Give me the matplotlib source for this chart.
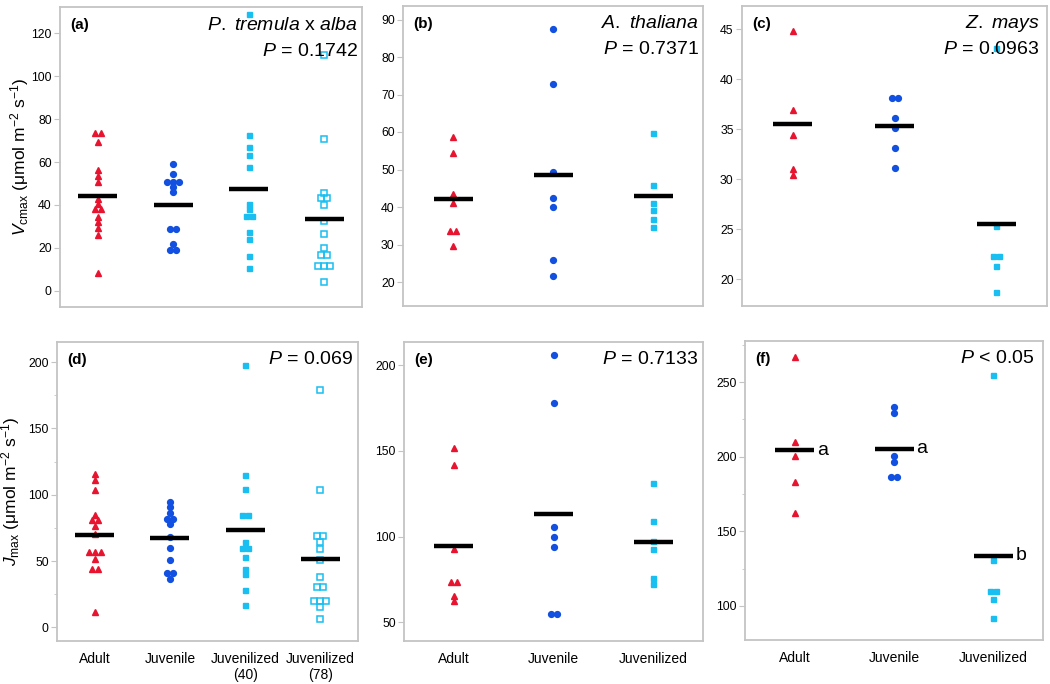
import numpy as np
import matplotlib
matplotlib.use("Agg")
import matplotlib.pyplot as plt
from matplotlib.ticker import MultipleLocator

plt.rcParams["font.family"] = ["Liberation Sans", "DejaVu Sans"]
plt.rcParams["mathtext.fontset"] = "custom"
plt.rcParams["mathtext.rm"] = "Liberation Sans"
plt.rcParams["mathtext.it"] = "Liberation Sans:italic"

# ---- data ----
cats4 = ["Adult", "Juvenile", "Juvenilized\n(40)", "Juvenilized\n(78)"]
cats3 = ["Adult", "Juvenile", "Juvenilized"]

a_adult = [73.4, 73.4, 69.5, 56.3, 53.6, 50.8, 42.8, 40.4, 37.9, 37.9, 34.5, 31.9, 29.1, 26.0, 8.4]
a_juv = [58.9, 54.4, 50.8, 50.8, 50.8, 48.3, 45.9, 28.8, 28.8, 21.8, 19.0, 19.0]
a_j40 = [129.0, 72.6, 67.2, 63.3, 57.5, 40.4, 37.9, 34.8, 34.8, 27.2, 24.1, 16.3, 10.7]
a_j78 = [110.0, 70.7, 45.7, 43.1, 43.1, 40.0, 32.5, 26.4, 19.7, 16.6, 16.6, 11.7, 11.7, 11.7, 4.2]

b_adult = [58.8, 54.5, 43.4, 41.1, 33.5, 33.5, 29.6]
b_juv = [87.5, 72.7, 49.4, 42.4, 40.1, 25.9, 21.6]
b_juvd = [59.7, 45.8, 41.1, 39.2, 36.9, 34.6]

c_adult = [44.8, 36.9, 34.4, 31.0, 30.4]
c_juv = [38.1, 38.1, 36.1, 35.1, 33.1, 31.1]
c_juvd = [43.1, 25.3, 22.3, 22.3, 21.3, 18.7]

d_adult = [115.3, 110.8, 103.8, 84.9, 80.7, 80.7, 76.1, 70.1, 56.8, 56.8, 56.8, 51.8, 43.7, 43.7, 11.6]
d_juv = [94.5, 90.4, 86.2, 81.9, 81.9, 78.1, 68.1, 59.8, 51.0, 40.9, 40.9, 36.7]
d_j40 = [197.5, 114.6, 104.0, 84.9, 84.9, 64.3, 60.1, 60.1, 53.0, 44.2, 40.0, 28.4, 16.6]
d_j78 = [179.0, 103.3, 68.8, 68.8, 64.3, 59.3, 50.5, 37.9, 30.4, 30.4, 19.6, 19.6, 19.6, 15.3, 6.5]

e_adult = [151.9, 141.8, 93.0, 73.7, 73.7, 65.4, 62.2]
e_juv = [206.0, 178.2, 105.9, 99.7, 94.2, 54.9, 54.9]
e_juvd = [131.6, 109.4, 97.3, 93.0, 75.9, 72.4]

f_adult = [266.5, 210.0, 200.4, 182.8, 162.5]
f_juv = [233.5, 229.5, 200.4, 196.2, 186.4, 186.4]
f_juvd = [254.5, 130.8, 110.0, 110.0, 104.9, 91.7]

RED = "#e8142f"
BLUE = "#1150e0"
CYAN = "#18bff0"
GRID = "#c4c4c4"

styles = [
    dict(marker="^", color=RED, ms=4.6, mec=RED),
    dict(marker="o", color=BLUE, ms=4.2, mec=BLUE),
    dict(marker="s", color=CYAN, ms=3.6, mec=CYAN),
    dict(marker="s", color="none", ms=4.0, mec=CYAN, mew=1.1),
]

W, H = 1050, 684
fig = plt.figure(figsize=(W / 100, H / 100), dpi=100)


def make_ax(l, r, t, b):
    return fig.add_axes([l / W, 1 - b / H, (r - l) / W, (b - t) / H])


def panel(ax, groups, cats, ylim, major, minor, show_x, width_px):
    n = len(groups)
    px_unit = width_px / n
    dx = 6.0 / px_unit
    half = 19.5 / px_unit
    for i, vals in enumerate(groups):
        vals = np.array(vals)
        xs = np.full(len(vals), i + 1.0)
        # spread equal values side by side
        for v in np.unique(vals):
            idx = np.where(vals == v)[0]
            k = len(idx)
            xs[idx] += (np.arange(k) - (k - 1) / 2) * dx
        ax.plot(xs, vals, linestyle="none", zorder=3, clip_on=False, **styles[i])
        m = np.mean(vals)
        ax.plot([i + 1 - half, i + 1 + half], [m, m], color="black", lw=3.2,
                solid_capstyle="butt", zorder=4)
    ax.set_xlim(0.5, n + 0.5)
    ax.set_ylim(*ylim)
    ax.yaxis.set_major_locator(MultipleLocator(major))
    if minor:
        ax.yaxis.set_minor_locator(MultipleLocator(minor))
    ax.tick_params(axis="y", which="major", length=4, color=GRID, labelsize=8.8, pad=2)
    ax.tick_params(axis="y", which="minor", length=2.5, color=GRID)
    ax.set_xticks(range(1, n + 1))
    if show_x:
        ax.set_xticklabels(cats, fontsize=10)
        ax.tick_params(axis="x", length=0, pad=8)
    else:
        ax.set_xticklabels([])
        ax.tick_params(axis="x", length=0)
    for s in ax.spines.values():
        s.set_color(GRID)
        s.set_linewidth(1.3)
    return half


ax_a = make_ax(60, 362, 7, 307)
ax_b = make_ax(403, 703, 6, 306)
ax_c = make_ax(742, 1047, 6, 306)
ax_d = make_ax(57, 358, 342, 641)
ax_e = make_ax(404, 703, 342, 641)
ax_f = make_ax(745, 1043, 341, 640)

panel(ax_a, [a_adult, a_juv, a_j40, a_j78], cats4, (-7.6, 132.3), 20, None, False, 302)
panel(ax_b, [b_adult, b_juv, b_juvd], cats3, (13.6, 93.6), 10, None, False, 300)
panel(ax_c, [c_adult, c_juv, c_juvd], cats3, (17.3, 47.3), 5, None, False, 305)
panel(ax_d, [d_adult, d_juv, d_j40, d_j78], cats4, (-10.3, 215.1), 50, 25, True, 301)
panel(ax_e, [e_adult, e_juv, e_juvd], cats3, (39.1, 213.6), 50, None, True, 299)
half_f = panel(ax_f, [f_adult, f_juv, f_juvd], cats3, (77.2, 277.5), 50, 25, True, 298)

# panel letters
for ax, lab in [(ax_a, "(a)"), (ax_b, "(b)"), (ax_c, "(c)"),
                (ax_d, "(d)"), (ax_e, "(e)"), (ax_f, "(f)")]:
    ax.text(0.035, 0.94, lab, transform=ax.transAxes, fontsize=11,
            fontweight="bold", ha="left", va="center")

# species names and P values
sp = dict(fontsize=14, ha="right", va="center")
ax_a.text(0.985, 0.94, r"$\it{P.}$ $\it{tremula}$ x $\it{alba}$", transform=ax_a.transAxes, **sp)
ax_a.text(0.985, 0.85, r"$\it{P}$ = 0.1742", transform=ax_a.transAxes, **sp)
ax_b.text(0.985, 0.94, r"$\it{A.}$ $\it{thaliana}$", transform=ax_b.transAxes, **sp)
ax_b.text(0.985, 0.855, r"$\it{P}$ = 0.7371", transform=ax_b.transAxes, **sp)
ax_c.text(0.975, 0.94, r"$\it{Z.}$ $\it{mays}$", transform=ax_c.transAxes, **sp)
ax_c.text(0.975, 0.855, r"$\it{P}$ = 0.0963", transform=ax_c.transAxes, **sp)
ax_d.text(0.985, 0.94, r"$\it{P}$ = 0.069", transform=ax_d.transAxes, **sp)
ax_e.text(0.985, 0.94, r"$\it{P}$ = 0.7133", transform=ax_e.transAxes, **sp)
ax_f.text(0.97, 0.94, r"$\it{P}$ < 0.05", transform=ax_f.transAxes, **sp)

# significance letters in (f)
sig = ["a", "a", "b"]
for i, vals in enumerate([f_adult, f_juv, f_juvd]):
    ax_f.text(i + 1 + half_f + 0.03, np.mean(vals), sig[i], fontsize=14,
              ha="left", va="center")

ax_a.set_ylabel(r"$V_{\rm cmax}$ (μmol m$^{-2}$ s$^{-1}$)", fontsize=12.5)
ax_d.set_ylabel(r"$J_{\rm max}$ (μmol m$^{-2}$ s$^{-1}$)", fontsize=12.5)
ax_a.yaxis.set_label_coords((31 - 60) / 302, 0.5)
ax_d.yaxis.set_label_coords((22 - 57) / 301, 0.5)

fig.savefig("out.png", dpi=100)
